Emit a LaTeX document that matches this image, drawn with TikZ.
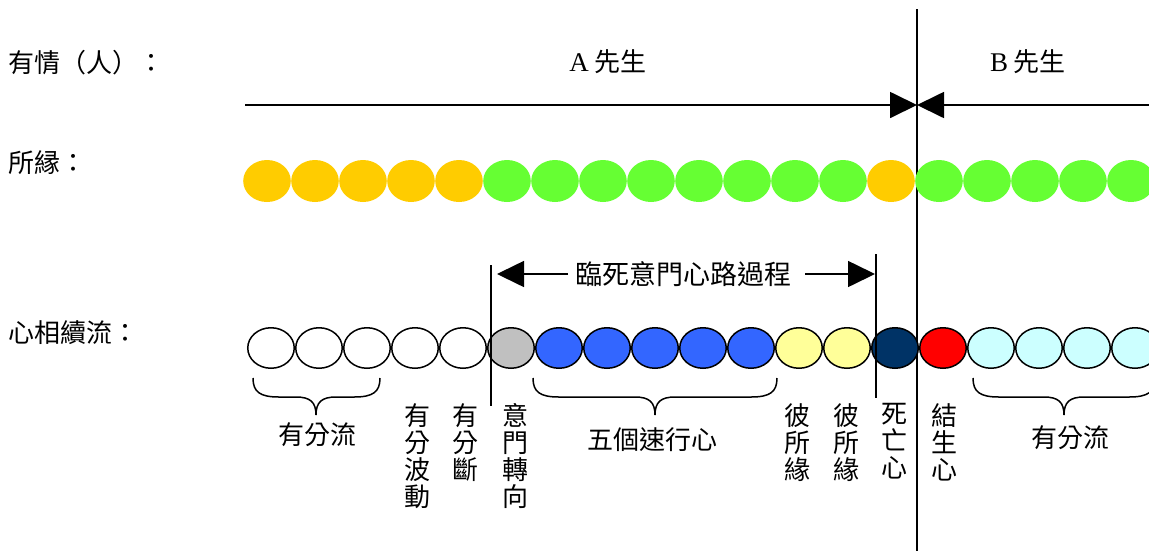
\documentclass[tikz,border=0pt]{standalone}
\usepackage{fontspec}
\setmainfont{Liberation Serif}
\newfontfamily\cjk{Noto Sans CJK TC}
\usetikzlibrary{arrows.meta,shapes.geometric}
\definecolor{cOrange}{HTML}{FFCC00}
\definecolor{cGreen}{HTML}{66FF33}
\definecolor{cGray}{HTML}{C0C0C0}
\definecolor{cBlue}{HTML}{3366FF}
\definecolor{cYellow}{HTML}{FFFF99}
\definecolor{cNavy}{HTML}{003366}
\definecolor{cRed}{HTML}{FF0000}
\definecolor{cCyan}{HTML}{CCFFFF}
\tikzset{
  lbl/.style={font=\cjk\fontsize{26}{28}\selectfont, anchor=west, inner sep=0},
  txt/.style={font=\cjk\fontsize{26}{27}\selectfont, inner sep=0},
  vtxt/.style={txt, align=center, anchor=north},
  obj/.style={ellipse, inner sep=0, minimum width=47.6, minimum height=42, draw=none},
  mind/.style={ellipse, inner sep=0, minimum width=46.5, minimum height=40.5, draw=black, line width=1.5},
  bigarrow/.style={line width=1.8, -{Triangle[length=27pt,width=26pt]}},
  vline/.style={line width=1.6},
  bracepath/.style={line width=1.5}
}
\begin{document}
\begin{tikzpicture}[x=1pt,y=-1pt]
\useasboundingbox (0,0) rectangle (1149,550);
% left labels
\node[lbl] (l1) at (8,63) {有情（人）：};
\node[lbl] (l2) at (8,163) {所縁：};
\node[lbl] (l3) at (8,333) {心相續流：};
% persons
\node[txt] (pa) at (608,62) {{\normalfont\fontsize{27}{28}\selectfont A} 先生};
\node[txt] (pb) at (1028,62) {{\normalfont\fontsize{27}{28}\selectfont B} 先生};
% main vertical line
\coordinate (vt) at (917,9);
\coordinate (vb) at (917,552);
\draw[vline] (vt) -- (vb);
% top arrows
\coordinate (tl) at (245,105);
\coordinate (tm) at (917,105);
\coordinate (tr) at (1160,105);
\draw[bigarrow] (tl) -- (tm);
\draw[bigarrow] (tr) -- (tm);
% object row
\foreach \k/\c in {0/cOrange,1/cOrange,2/cOrange,3/cOrange,4/cOrange,
  5/cGreen,6/cGreen,7/cGreen,8/cGreen,9/cGreen,10/cGreen,11/cGreen,12/cGreen,
  13/cOrange,14/cGreen,15/cGreen,16/cGreen,17/cGreen,18/cGreen}
  \node[obj, fill=\c] (o\k) at ({267+48*\k},181) {};
% mind row
\foreach \k/\c in {0/white,1/white,2/white,3/white,4/white,5/cGray,
  6/cBlue,7/cBlue,8/cBlue,9/cBlue,10/cBlue,11/cYellow,12/cYellow,
  13/cNavy,14/cRed,15/cCyan,16/cCyan,17/cCyan,18/cCyan}
  \node[mind, fill=\c] (m\k) at ({271+48*\k},348) {};
% near-death process
\coordinate (pl1) at (491,265);
\coordinate (pl2) at (491,406);
\coordinate (pr1) at (876,254);
\coordinate (pr2) at (876,398);
\draw[vline] (pl1) -- (pl2);
\draw[vline] (pr1) -- (pr2);
\node[txt, font=\cjk\fontsize{27}{28}\selectfont] (nd) at (683.5,274) {臨死意門心路過程};
\coordinate (al0) at (568,274);
\coordinate (al) at (497,274);
\coordinate (ar0) at (805,274);
\coordinate (ar) at (875,274);
\draw[bigarrow, line width=1.6] (al0) -- (al);
\draw[bigarrow, line width=1.6] (ar0) -- (ar);
% braces
\foreach \a/\m/\b/\n in {253/316/380/b1, 533/655/777/b2, 973/1064/1155/b3}{
  \draw[bracepath] (\a,378) .. controls (\a,392) and (\a+7,397) .. (\a+26,397)
    -- (\m-20,397) .. controls (\m-6,397) and (\m,402) .. (\m,415)
    .. controls (\m,402) and (\m+6,397) .. (\m+20,397)
    -- (\b-26,397) .. controls (\b-7,397) and (\b,392) .. (\b,378);
}
\node[txt] (s1) at (317,435) {有分流};
\node[txt] (s2) at (652,440) {五個速行心};
\node[txt] (s3) at (1070,438) {有分流};
% vertical labels
\node[vtxt] (v1) at (417.5,403) {有\\分\\波\\動};
\node[vtxt] (v2) at (465.5,403) {有\\分\\斷};
\node[vtxt] (v3) at (515.5,403) {意\\門\\轉\\向};
\node[vtxt] (v4) at (797,403) {彼\\所\\緣};
\node[vtxt] (v5) at (846,403) {彼\\所\\緣};
\node[vtxt] (v6) at (894,403) {死\\亡\\心};
\node[vtxt] (v7) at (944.5,403) {結\\生\\心};
\end{tikzpicture}
\end{document}
